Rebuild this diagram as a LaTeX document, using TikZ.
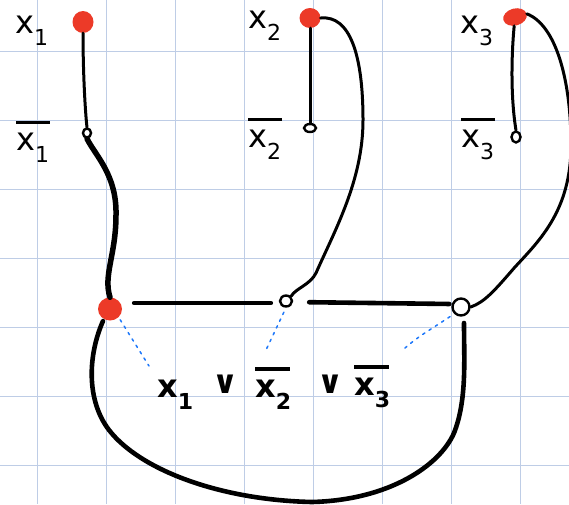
\documentclass[tikz,border=0pt]{standalone}
\usepackage{fontspec}
\usetikzlibrary{shapes.geometric}
\newfontfamily\handfont{DejaVu Sans}
\newfontfamily\boldhandfont{DejaVu Sans Bold}
\definecolor{gridblue}{RGB}{190,205,230}
\definecolor{dotred}{RGB}{236,58,40}
\definecolor{linkblue}{RGB}{30,120,250}
% literal x_i and its negation, with a lowered index
\newcommand\idx[1]{\raisebox{-0.38em}{\fontsize{22}{22}\selectfont #1}}
\newcommand\posl[1]{x\idx{#1}}
\newcommand\negl[1]{\rlap{\raisebox{0.82em}{\rule{1.05em}{2.6pt}}}x\idx{#1}}
\newcommand\negbl[1]{\rlap{\raisebox{0.82em}{\rule{1.1em}{3.4pt}}}x\idx{#1}}
\tikzset{
  lit/.style={inner sep=0pt, anchor=base west, font=\handfont\fontsize{32}{32}\selectfont},
  clauselit/.style={lit, font=\boldhandfont\fontsize{32}{32}\selectfont},
  truedot/.style={ellipse, fill=dotred, draw=none, inner sep=0pt},
  holedot/.style={ellipse, draw=black, fill=white, line width=2.4pt, inner sep=0pt},
  wire/.style={line width=3pt, line cap=round},
  heavywire/.style={line width=5.5pt, line cap=round},
  clauseedge/.style={line width=4.6pt, line cap=round},
  link/.style={linkblue, line width=1.5pt, dash pattern=on 2.5pt off 5pt, line cap=round}
}
\begin{document}
\begin{tikzpicture}[x=1pt, y=-1pt]
  \useasboundingbox (0,0) rectangle (569,504);
  \clip (0,0) rectangle (569,504);
  % squared paper
  \foreach \gx in {37.7,106.7,...,569} \draw[gridblue, line width=1.3pt] (\gx,0) -- (\gx,504);
  \foreach \gy in {51.7,120.7,...,504} \draw[gridblue, line width=1.3pt] (0,\gy) -- (569,\gy);

  % variable gadgets
  \node[truedot, minimum width=21pt, minimum height=22pt] (x1) at (83,22) {};
  \node[holedot, minimum width=8pt, minimum height=9pt] (nx1) at (87,133) {};
  \node[truedot, minimum width=21pt, minimum height=20pt] (x2) at (310,18) {};
  \node[holedot, minimum width=12pt, minimum height=8pt] (nx2) at (310,128) {};
  \node[truedot, minimum width=24pt, minimum height=17pt, rotate=15] (x3) at (515,17) {};
  \node[holedot, minimum width=9pt, minimum height=11pt] (nx3) at (516,137) {};

  \node[lit] (lx1) at (15,33) {\posl{1}};
  \node[lit] (lnx1) at (16,150) {\negl{1}};
  \node[lit] (lx2) at (248,28) {\posl{2}};
  \node[lit] (lnx2) at (248,147) {\negl{2}};
  \node[lit] (lx3) at (460,33) {\posl{3}};
  \node[lit] (lnx3) at (461,147) {\negl{3}};

  % clause gadget
  \node[truedot, minimum width=24pt, minimum height=23pt] (c1) at (110,309) {};
  \node[holedot, minimum width=12pt, minimum height=11pt] (c2) at (286,301) {};
  \node[holedot, minimum width=17pt, minimum height=17pt] (c3) at (461,307) {};

  % clause text
  \node[clauselit] (f1) at (157,397) {\posl{1}};
  \node[clauselit] (or1) at (212,393) {∨};
  \node[clauselit] (f2) at (255,397) {\negbl{2}};
  \node[clauselit] (or2) at (317,393) {∨};
  \node[clauselit] (f3) at (354,395) {\negbl{3}};

  % variable wires
  \draw[wire] (x1) .. controls (83,70) and (85,110) .. (nx1.north);
  \draw[heavywire] (nx1.south) .. controls (95,155) and (117,175) .. (116,215)
        .. controls (116,255) and (103,275) .. (c1.north);
  \draw[wire] (x2) -- (nx2.north);
  \draw[wire] (x2.east) .. controls (350,15) and (363,55) .. (363,120)
        .. controls (363,180) and (335,230) .. (316,273)
        .. controls (310,285) and (296,288) .. (c2.north east);
  \draw[wire] (x3) .. controls (511,60) and (511,100) .. (nx3.north);
  \draw[wire] (x3.east) .. controls (556,25) and (571,80) .. (571,145)
        .. controls (571,210) and (540,240) .. (515,267)
        .. controls (495,290) and (485,302) .. (c3.east);

  % clause wires
  \draw[clauseedge, shorten <=12pt, shorten >=8pt] ([yshift=6pt]c1.east) -- ([yshift=-2pt]c2.west);
  \draw[clauseedge, shorten <=16pt, shorten >=2pt] ([yshift=-1pt]c2.east) -- ([yshift=3pt]c3.west);
  \draw[clauseedge] (103,321) .. controls (88,355) and (86,400) .. (109,430)
        .. controls (140,470) and (220,500) .. (312,502)
        .. controls (390,500) and (440,465) .. (454,433)
        .. controls (467,400) and (464,360) .. (464,323);

  % links from gadget to literals
  \draw[link, shorten <=3pt] (c1.south east) -- (149,366);
  \draw[link, shorten <=5pt] (c2.south) -- (266,350);
  \draw[link, shorten <=5pt] (c3.south west) .. controls (430,330) and (420,335) .. (405,348);
\end{tikzpicture}
\end{document}
